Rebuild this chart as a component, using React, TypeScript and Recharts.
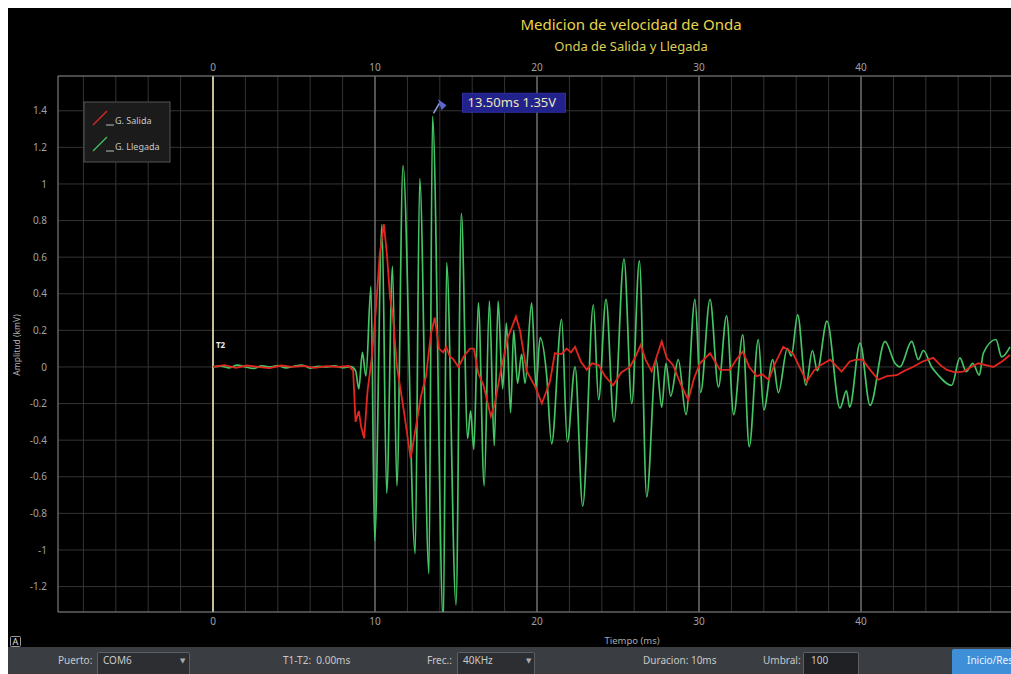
import React from 'react';
import { LineChart, Line, XAxis, YAxis, CartesianGrid, ReferenceLine, ReferenceDot } from 'recharts';

// ---- data ----
const llegadaTime = [
  0, 0.5, 1, 1.5, 2, 2.5, 3, 3.5, 4, 4.5, 5, 5.5, 6, 6.5, 7, 7.5, 8, 8.5, 8.8, 9.0,
  9.22, 9.44, 9.75, 9.98, 10.43, 10.72, 11.08, 11.35, 11.73, 12.48, 12.76, 13.33, 13.55, 14.22, 14.42, 15.0,
  15.33, 15.72, 15.9, 16.1, 16.38, 16.74, 17.06, 17.36, 17.6, 17.88, 18.11, 18.37, 18.56, 18.8,
  19.05, 19.26, 19.67, 19.94, 20.19, 20.6, 20.9, 21.52, 21.87, 22.35, 22.82, 23.48, 23.8, 24.26,
  24.75, 25.37, 25.85, 26.32, 26.77, 27.35, 27.7, 27.96, 28.25, 28.72, 29.2, 29.75, 30.1, 30.68,
  31.2, 31.7, 32.14, 32.7, 33.1, 33.66, 34.0, 34.55, 34.9, 35.45, 35.7, 36.09, 36.6, 37.0, 37.3,
  37.9, 38.7, 39.1, 39.3, 39.94, 40.56, 41.48, 42.1, 42.4, 43.13, 43.54, 43.85, 44.36, 44.67,
  45.6, 46.1, 46.5, 46.9, 47.3, 47.55, 48.33, 48.68, 49.2,
];
const llegadaVolt = [
  0, 0.005, -0.005, 0.01, 0, -0.008, 0.006, 0, 0.008, -0.005, 0.004, 0.01, -0.006, 0.004, 0, 0.006, -0.004, 0.002, -0.02, -0.12,
  0.08, -0.05, 0.44, -0.95, 0.78, -0.69, 0.55, -0.65, 1.1, -1.02, 1.03, -1.13, 1.37, -1.4, 0.57, -1.3,
  0.84, -0.39, -0.24, -0.45, 0.35, -0.65, 0.36, -0.43, 0.36, -0.12, 0.24, -0.25, 0.2, -0.09,
  0.07, -0.09, 0.35, -0.11, 0.16, -0.05, -0.42, 0.26, -0.41, 0.0, -0.76, 0.34, -0.18, 0.37,
  -0.3, 0.59, -0.2, 0.58, -0.71, 0.04, -0.22, 0.02, -0.16, 0.04, -0.26, 0.37, -0.14, 0.37,
  -0.11, 0.28, -0.26, 0.175, -0.435, 0.15, -0.235, 0.04, -0.14, 0.1, 0.06, 0.285, -0.1, 0.09, -0.02,
  0.25, -0.225, -0.13, -0.22, 0.13, -0.21, 0.14, 0.02, 0.0, 0.14, 0.04, 0.09, 0.0, -0.035,
  -0.1, 0.05, -0.025, 0.02, -0.045, 0.075, 0.15, 0.055, 0.11,
];
const salidaTime = [
  0, 0.7, 1.4, 2.1, 2.8, 3.5, 4.2, 4.9, 5.6, 6.3, 7, 7.7, 8.4, 8.65, 8.8, 9.0, 9.15, 9.33, 9.54, 9.8,
  10.06, 10.3, 10.55, 10.75, 10.93, 11.1, 11.36, 11.78, 12.2, 12.5, 12.84, 13.15, 13.45, 13.69, 13.95, 14.2,
  14.4, 14.6, 14.85, 15.15, 15.5, 15.86, 16.1, 16.38, 16.7, 17.15, 17.4, 17.7, 18.2, 18.7, 18.95,
  19.35, 19.9, 20.3, 20.8, 21.1, 21.5, 21.83, 22.1, 22.35, 22.7, 23.07, 23.4, 23.8, 24.2, 24.7,
  25.2, 25.74, 26.1, 26.4, 26.7, 27.08, 27.4, 27.7, 28.0, 28.4, 28.9, 29.34, 29.7, 30.06, 30.68,
  31.3, 31.9, 32.3, 32.7, 33.1, 33.56, 33.9, 34.3, 34.7, 35.2, 35.8, 36.2, 36.65, 37.1, 37.5, 38.1,
  38.8, 39.3, 39.7, 40.1, 40.6, 41.07, 41.6, 42.2, 42.7, 43.2, 43.8, 44.46, 44.9, 45.3, 45.8, 46.3,
  46.8, 47.24, 47.7, 48.17, 48.7, 49.2,
];
const salidaVolt = [
  0, 0.01, -0.005, 0.008, 0, -0.006, 0.008, 0, 0.006, -0.005, 0.004, 0, 0.005, -0.02, -0.3, -0.24, -0.33, -0.39, -0.13, 0.05,
  0.32, 0.62, 0.78, 0.6, 0.38, 0.28, 0.0, -0.24, -0.5, -0.34, -0.16, -0.05, 0.18, 0.27, 0.1, 0.08,
  0.11, 0.06, 0.04, 0.0, 0.06, 0.1, 0.1, -0.035, -0.1, -0.27, -0.2, -0.05, 0.16, 0.275, 0.2,
  -0.02, -0.11, -0.2, -0.08, 0.075, 0.07, 0.1, 0.08, 0.11, 0.03, -0.015, 0.02, 0.01, -0.05, -0.1,
  -0.03, 0.0, 0.06, 0.12, 0.04, -0.025, 0.06, 0.14, 0.05, 0.01, -0.1, -0.18, -0.06, 0.02, 0.075,
  -0.016, -0.016, 0.04, 0.085, 0.0, -0.05, -0.04, -0.07, 0.02, 0.11, 0.075, 0.0, -0.08, -0.02, 0.01, 0.04,
  -0.025, 0.03, 0.04, 0.04, -0.02, -0.07, -0.05, -0.045, -0.02, 0.0, 0.03, 0.05, 0.01, -0.016, -0.03, -0.025,
  0.0, 0.02, 0.01, 0.0, 0.03, 0.065,
];
const xGridTicks = [-8, -6, -4, -2, 0, 2, 4, 6, 8, 10, 12, 14, 16, 18, 20, 22, 24, 26, 28, 30, 32, 34, 36, 38, 40, 42, 44, 46, 48];
const xMajorTicks = [10, 20, 30, 40];
const yTicks = [-1.2, -1, -0.8, -0.6, -0.4, -0.2, 0, 0.2, 0.4, 0.6, 0.8, 1, 1.2, 1.4];
const peakTime = 13.55;
const peakVolt = 1.37;
const peakLabel = '13.50ms 1.35V';
const seriesNames = ['G. Salida', 'G. Llegada'];
const titleText = 'Medicion de velocidad de Onda';
const subtitleText = 'Onda de Salida y Llegada';

const llegadaData = llegadaTime.map((t, i) => ({ t, v: llegadaVolt[i] }));
const salidaData = salidaTime.map((t, i) => ({ t, v: salidaVolt[i] }));

const X_DOMAIN: [number, number] = [-9.568, 49.32];
const Y_DOMAIN: [number, number] = [-1.339, 1.59];
const FONT = '"Noto Sans", "DejaVu Sans", sans-serif';
const TICK = { fill: '#a0a0a0', fontSize: 10, fontFamily: FONT };
const RED = '#e3261f';
const GREEN = '#44c464';

const fmtX = (v: number) => (Math.round(v) % 10 === 0 ? String(v) : '');
const fmtY = (v: number) => String(Number(v.toFixed(1)));

const PeakMarker = (props: any) => {
  const { cx, cy } = props;
  if (cx == null || cy == null) return null;
  return (
    <g>
      <line x1={cx + 1} y1={cy - 3} x2={cx + 7} y2={cy - 13} stroke="#8f97d8" strokeWidth={1.5} />
      <polygon points={`${cx + 5.5},${cy - 17} ${cx + 14},${cy - 11} ${cx + 9},${cy - 6}`} fill="#5b66cf" />
      <rect x={cx + 30} y={cy - 23} width={103} height={19} fill="#22228c" stroke="#3030a0" />
      <text x={cx + 35} y={cy - 9} fill="#ece6b8" fontSize={13} fontFamily={FONT}>
        {peakLabel}
      </text>
    </g>
  );
};

const T2Marker = (props: any) => {
  const { cx, cy } = props;
  if (cx == null || cy == null) return null;
  return (
    <text x={cx + 3} y={cy + 3} fill="#e8e8e8" fontSize={8} fontWeight="bold" fontFamily={FONT}>
      T2
    </text>
  );
};

const tbText: React.CSSProperties = {
  position: 'absolute',
  top: 0,
  height: 27,
  lineHeight: '27px',
  fontSize: 10,
  color: '#c8c8c8',
  fontFamily: FONT,
  whiteSpace: 'nowrap',
};

const boxStyle = (left: number, width: number): React.CSSProperties => ({
  position: 'absolute',
  left,
  top: 5,
  width,
  height: 30,
  background: '#2c2e31',
  border: '1px solid #5c5f63',
  borderRadius: 2,
  boxSizing: 'border-box',
});

export default function App() {
  return (
    <div
      style={{
        position: 'fixed',
        left: 8,
        top: 8,
        width: 1003,
        height: 666,
        background: '#000',
        overflow: 'hidden',
        fontFamily: FONT,
      }}
    >
      <div style={{ position: 'absolute', left: 0, top: 0 }}>
        <LineChart width={1004} height={640} margin={{ top: 0, right: 0, bottom: 0, left: 0 }}>
          <CartesianGrid stroke="#343434" strokeWidth={1} />
          <XAxis
            xAxisId={0}
            dataKey="t"
            type="number"
            domain={X_DOMAIN}
            allowDataOverflow
            ticks={xGridTicks}
            interval={0}
            tickFormatter={fmtX}
            tick={TICK}
            tickLine={false}
            tickSize={0}
            tickMargin={6}
            height={36}
            axisLine={{ stroke: '#7a7a7a' }}
          />
          <XAxis
            xAxisId="top"
            orientation="top"
            dataKey="t"
            type="number"
            domain={X_DOMAIN}
            allowDataOverflow
            ticks={xGridTicks}
            interval={0}
            tickFormatter={fmtX}
            tick={TICK}
            tickLine={false}
            tickSize={0}
            tickMargin={5}
            height={68}
            axisLine={{ stroke: '#7a7a7a' }}
          />
          <YAxis
            type="number"
            domain={Y_DOMAIN}
            allowDataOverflow
            ticks={yTicks}
            interval={0}
            tickFormatter={fmtY}
            tick={TICK}
            tickLine={false}
            tickSize={0}
            tickMargin={11}
            width={50}
            axisLine={{ stroke: '#7a7a7a' }}
          />
          {xMajorTicks.map((x) => (
            <ReferenceLine key={x} x={x} stroke="#8c8c8c" strokeWidth={1} />
          ))}
          <ReferenceLine x={0} stroke="#f2ebb5" strokeWidth={1.6} />
          <Line
            data={llegadaData}
            dataKey="v"
            type="monotone"
            stroke={GREEN}
            strokeWidth={1.7}
            dot={false}
            activeDot={false}
            isAnimationActive={false}
            name={seriesNames[1]}
          />
          <Line
            data={salidaData}
            dataKey="v"
            type="linear"
            stroke={RED}
            strokeWidth={1.8}
            dot={false}
            activeDot={false}
            isAnimationActive={false}
            name={seriesNames[0]}
          />
          <ReferenceDot x={0} y={0.12} r={0} shape={T2Marker} />
          <ReferenceDot x={peakTime} y={peakVolt} r={0} shape={PeakMarker} />
        </LineChart>
      </div>

      {/* overlay: titles, legend, axis titles */}
      <svg width={1003} height={666} style={{ position: 'absolute', left: 0, top: 0, pointerEvents: 'none' }}>
        <text x={623} y={22} textAnchor="middle" fill="#e6d64c" fontSize={15} fontFamily={FONT}>
          {titleText}
        </text>
        <text x={623} y={43} textAnchor="middle" fill="#dccf55" fontSize={13} fontFamily={FONT}>
          {subtitleText}
        </text>
        <text
          x={12}
          y={337}
          transform="rotate(-90 12 337)"
          textAnchor="middle"
          fill="#b0b0b0"
          fontSize={8.5}
          fontFamily={FONT}
        >
          Amplitud (kmV)
        </text>
        <text x={624} y={636} textAnchor="middle" fill="#a8a8a8" fontSize={9.5} fontFamily={FONT}>
          Tiempo (ms)
        </text>
        {/* legend */}
        <g transform="translate(76,94)">
          <rect x={0} y={0} width={86} height={60} fill="#1b1b1b" stroke="#555" />
          <line x1={9} y1={23} x2={23} y2={9} stroke={RED} strokeWidth={1.3} />
          <line x1={22} y1={23} x2={30} y2={23} stroke="#bbb" strokeWidth={1} />
          <text x={31} y={22} fill="#c8c8c8" fontSize={9} fontFamily={FONT}>
            {seriesNames[0]}
          </text>
          <line x1={9} y1={49} x2={23} y2={35} stroke={GREEN} strokeWidth={1.3} />
          <line x1={22} y1={49} x2={30} y2={49} stroke="#bbb" strokeWidth={1} />
          <text x={31} y={48} fill="#c8c8c8" fontSize={9} fontFamily={FONT}>
            {seriesNames[1]}
          </text>
        </g>
        {/* A icon */}
        <rect x={2.5} y={628.5} width={10} height={10} fill="none" stroke="#9a9a9a" strokeWidth={1} rx={1} />
        <text x={7.5} y={637} textAnchor="middle" fill="#e0e0e0" fontSize={9} fontFamily={FONT}>
          A
        </text>
      </svg>

      {/* toolbar */}
      <div style={{ position: 'absolute', left: 0, top: 639, width: 1003, height: 27, background: '#3a3d41' }}>
        <div style={{ ...tbText, left: 50 }}>Puerto:</div>
        <div style={boxStyle(89, 93)} />
        <div style={{ ...tbText, left: 95 }}>COM6</div>
        <div style={{ ...tbText, left: 172, fontSize: 7, color: '#aaa' }}>▼</div>
        <div style={{ ...tbText, left: 275 }}>T1-T2:&nbsp; 0.00ms</div>
        <div style={{ ...tbText, left: 419 }}>Frec.:</div>
        <div style={boxStyle(449, 78)} />
        <div style={{ ...tbText, left: 455 }}>40KHz</div>
        <div style={{ ...tbText, left: 518, fontSize: 7, color: '#aaa' }}>▼</div>
        <div style={{ ...tbText, left: 635 }}>Duracion: 10ms</div>
        <div style={{ ...tbText, left: 755 }}>Umbral:</div>
        <div style={{ ...boxStyle(795, 56), background: '#1f2124' }} />
        <div style={{ ...tbText, left: 803 }}>100</div>
        <div
          style={{
            position: 'absolute',
            left: 944,
            top: 2,
            width: 100,
            height: 30,
            background: '#3f8fd8',
            borderRadius: 2,
          }}
        />
        <div style={{ ...tbText, left: 959, color: '#eaf3ff' }}>Inicio/Reset</div>
      </div>
    </div>
  );
}
